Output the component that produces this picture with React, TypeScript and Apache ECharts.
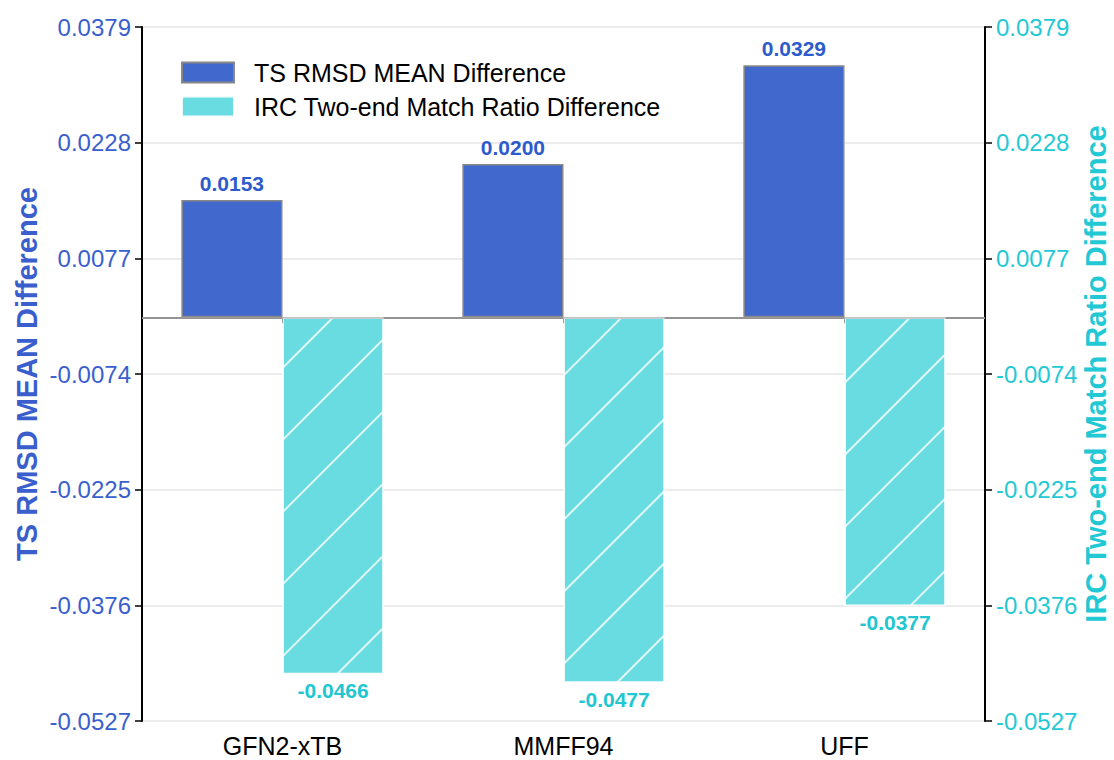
import React, { useEffect, useRef } from 'react';
import * as echarts from 'echarts';

const categories = ['GFN2-xTB', 'MMFF94', 'UFF'];
const tsRmsdMeanDiff = [0.0153, 0.02, 0.0329];
const ircMatchRatioDiff = [-0.0466, -0.0477, -0.0377];
const yTicks = [-0.0527, -0.0376, -0.0225, -0.0074, 0.0077, 0.0228, 0.0379];
const yMin = -0.0527;
const yMax = 0.0379;
const seriesNames = ['TS RMSD MEAN Difference', 'IRC Two-end Match Ratio Difference'];

const BLUE_AXIS = '#3a5fcd';
const BLUE_LABEL = '#2e5bcc';
const CYAN_AXIS = '#22c9d4';
const CYAN_LABEL = '#22c6d0';
const FONT = '"Liberation Sans", Arial, sans-serif';

export default function App() {
  const ref = useRef<HTMLDivElement>(null);
  useEffect(() => {
    if (!ref.current) return;
    const chart = echarts.init(ref.current, undefined, { renderer: 'svg' });
    const fmt = (v: number) => Number(v).toFixed(4);
    const yAxisBase = (side: 'left' | 'right', color: string, name: string, gap: number, split: boolean) => ({
      type: 'value',
      position: side,
      min: yMin,
      max: yMax,
      name,
      nameLocation: 'middle',
      nameGap: gap,
      nameMoveOverlap: false,
      nameTextStyle: { fontSize: 29, lineHeight: 30, fontWeight: 'bold', color, fontFamily: FONT },
      axisLine: { show: true, lineStyle: { color: '#000', width: 2 } },
      axisTick: { show: true, length: 7, lineStyle: { color: '#000', width: 1.5 }, customValues: yTicks },
      axisLabel: { fontSize: 24, color, margin: 11, formatter: fmt, customValues: yTicks, fontFamily: FONT },
      splitLine: { show: split, lineStyle: { color: '#e6e6e6', width: 1.5 } },
    });
    chart.setOption({
      animation: false,
      textStyle: { fontFamily: FONT },
      grid: { left: 142, right: 129, top: 27, bottom: 39, containLabel: false, outerBoundsMode: 'none' },
      legend: {
        left: 181,
        top: 60,
        padding: 0,
        orient: 'vertical',
        itemWidth: 52,
        itemHeight: 20,
        itemGap: 9,
        icon: 'rect',
        textStyle: { fontSize: 25, color: '#000', fontFamily: FONT, padding: [0, 0, 0, 15] },
        data: seriesNames,
      },
      xAxis: {
        type: 'category',
        data: categories,
        axisLine: { show: true, lineStyle: { color: '#000', width: 2 } },
        axisTick: { show: true, alignWithLabel: true, length: 6, lineStyle: { color: '#000', width: 1.5 } },
        axisLabel: { fontSize: 25, color: '#000', margin: 12, fontFamily: FONT },
        splitLine: { show: false },
      },
      yAxis: [
        yAxisBase('left', BLUE_AXIS, seriesNames[0], 100, true),
        yAxisBase('right', CYAN_AXIS, seriesNames[1], 96, false),
      ],
      series: [
        {
          name: seriesNames[0],
          type: 'bar',
          yAxisIndex: 0,
          data: tsRmsdMeanDiff,
          barGap: '0%',
          barCategoryGap: '28%',
          itemStyle: { color: '#4169cd', borderColor: '#888', borderWidth: 1.5 },
          label: {
            show: true,
            position: 'top',
            distance: 6,
            formatter: (p: any) => fmt(p.value),
            color: BLUE_LABEL,
            fontSize: 21,
            fontWeight: 'bold',
            fontFamily: FONT,
          },
          markLine: {
            silent: true,
            symbol: ['none', 'none'],
            label: { show: false },
            lineStyle: { color: '#c4c4c4', width: 1.5, type: 'solid' },
            data: [{ yAxis: 0 }],
          },
        },
        {
          name: seriesNames[1],
          type: 'bar',
          yAxisIndex: 1,
          data: ircMatchRatioDiff,
          barGap: '0%',
          barCategoryGap: '28%',
          itemStyle: {
            color: '#68dce0',
            borderColor: 'rgba(255,255,255,0.6)',
            borderWidth: 1.5,
            decal: {
              symbol: 'rect',
              symbolSize: 1,
              dashArrayX: [1, 0],
              dashArrayY: [2, 49],
              rotation: -Math.PI / 4,
              color: 'rgba(255,255,255,0.8)',
            },
          },
          label: {
            show: true,
            position: 'bottom',
            distance: 6,
            formatter: (p: any) => fmt(p.value),
            color: CYAN_LABEL,
            fontSize: 21,
            fontWeight: 'bold',
            fontFamily: FONT,
          },
        },
      ],
    });
    return () => chart.dispose();
  }, []);
  return (
    <div
      ref={ref}
      style={{ position: 'fixed', left: 0, top: 0, width: 1114, height: 760, background: '#fff' }}
    />
  );
}
